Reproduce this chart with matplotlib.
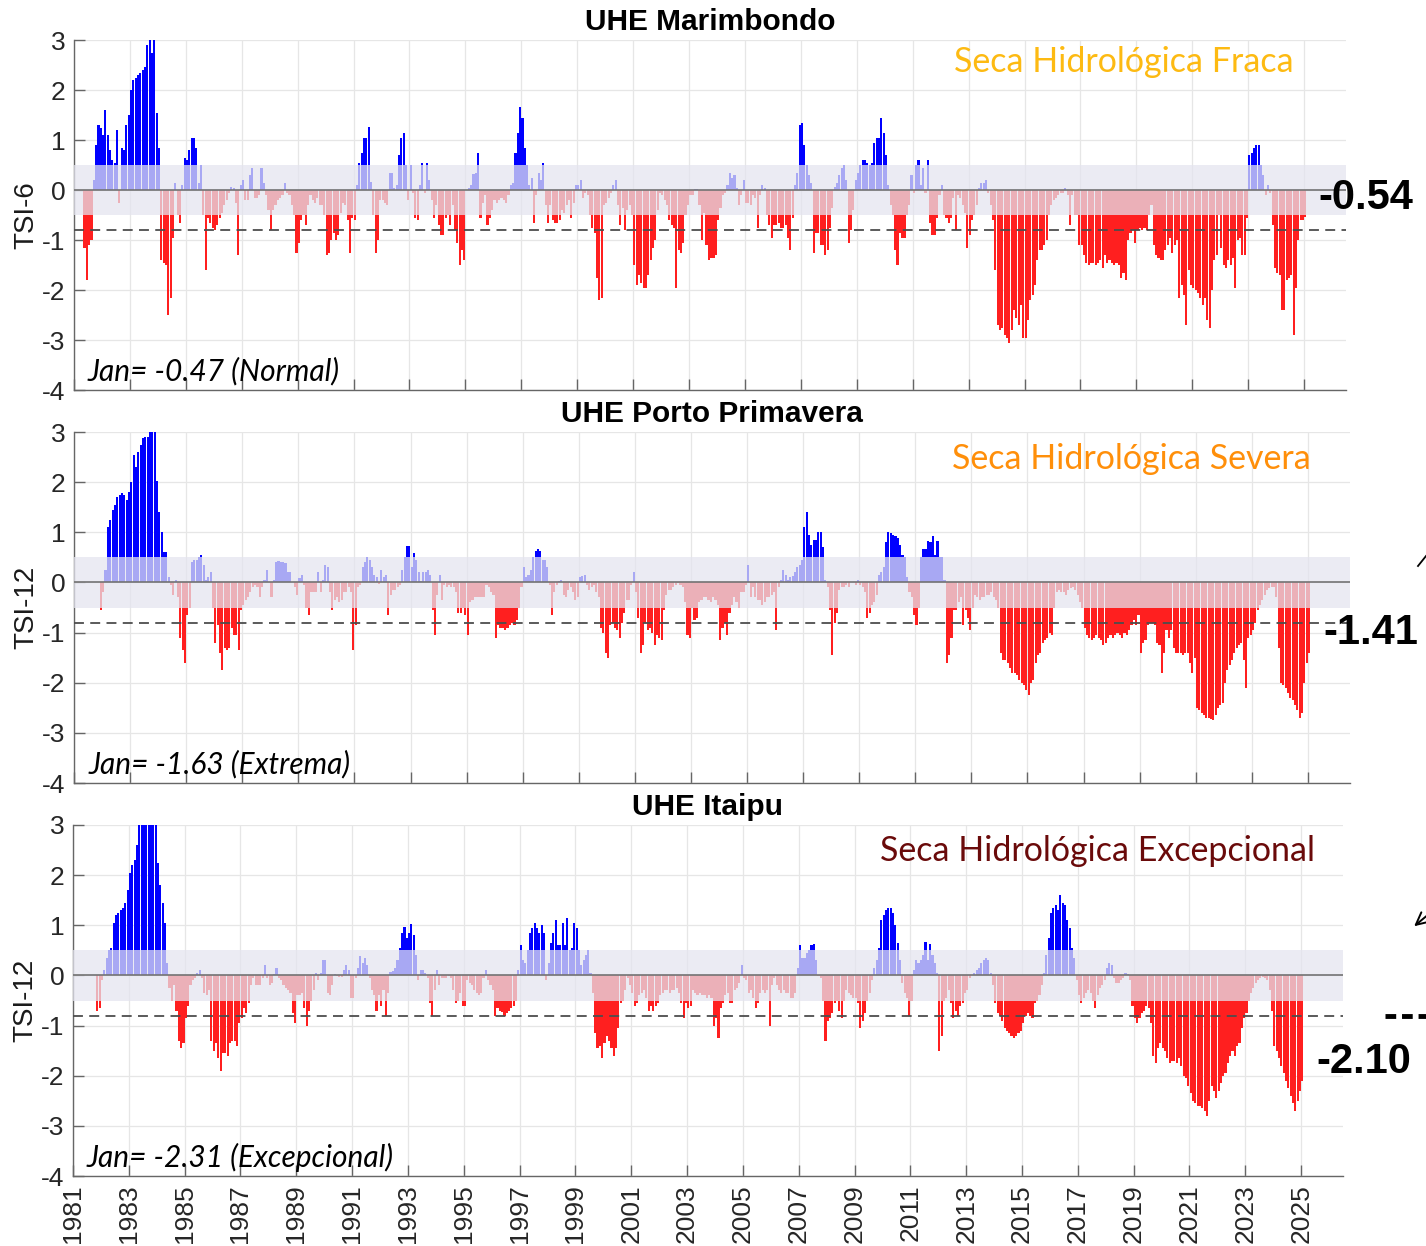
import numpy as np
import matplotlib
matplotlib.use('Agg')
import matplotlib.pyplot as plt
from matplotlib.lines import Line2D

nan = np.nan
start_year = 1981

# monthly index, one row per year (Jan..Dec), first row = 1981, last row = Jan 2025
tsi_marimbondo = [
    nan, nan, nan, nan, -1.15, -1.8, -1.1, -1.0, 0.2, 0.9, 1.3, 1.25,
    1.1, 1.6, 1.1, 0.8, 0.6, 0.55, 1.2, -0.25, 0.85, 0.8, 1.3, 1.5,
    2.0, 2.2, 2.25, 2.3, 2.35, 2.4, 2.45, 2.9, 3.1, 2.75, 3.1, 1.55,
    0.85, -1.4, -1.45, -1.5, -2.5, -2.15, -0.95, 0.15, -0.5, -0.65, 0.1, 0.65,
    0.6, 0.8, 1.05, 1.05, 0.85, 0.15, 0.5, -0.5, -1.6, -0.55, -0.65, -0.75,
    -0.8, -0.7, -0.55, -0.45, -0.3, -0.2, -0.05, 0.07, 0.05, -0.25, -1.3, 0.1,
    0.2, -0.2, -0.2, 0.3, 0.45, -0.15, -0.15, -0.1, 0.45, 0.15, -0.1, -0.4,
    -0.8, -0.4, -0.3, -0.2, -0.15, -0.1, 0.15, -0.05, -0.1, -0.3, -0.5, -1.25,
    -1.05, -0.6, -0.5, -0.7, -0.3, -0.1, -0.2, -0.25, -0.15, -0.3, -0.3, -0.5,
    -1.3, -1.25, -1.0, -0.85, -1.0, -0.9, -0.45, -0.25, -0.3, -0.6, -1.25, -0.55,
    -0.6, 0.1, 0.55, 0.75, 1.05, 1.05, 1.27, 0.17, -0.5, -1.25, -1.0, -0.2,
    -0.2, -0.25, -0.3, 0.35, 0.35, 0.05, 0.1, 0.7, 1.05, 1.15, 0.5, -0.2,
    0.5, -0.05, -0.55, -0.6, 0.1, 0.55, -0.05, 0.55, 0.2, -0.2, -0.55, -0.3,
    -0.7, -0.9, -0.9, -0.55, -0.5, -0.7, -0.3, -0.8, -1.05, -1.5, -1.2, -1.4,
    0.0, 0.05, 0.1, 0.33, 0.35, 0.75, -0.55, -0.25, -0.1, -0.7, -0.55, -0.4,
    -0.2, -0.25, -0.2, -0.15, -0.2, -0.25, -0.1, 0.1, 0.15, 0.75, 1.15, 1.66,
    1.45, 0.85, 0.5, 0.1, 0.25, -0.65, -0.1, 0.35, 0.2, 0.55, -0.3, -0.65,
    -0.3, -0.6, -0.65, -0.65, -0.6, -0.4, -0.45, -0.3, -0.2, -0.55, -0.25, 0.1,
    0.1, 0.2, -0.15, -0.05, -0.1, -0.5, -0.75, -0.85, -1.75, -2.2, -2.15, -0.3,
    -0.25, -0.15, -0.05, 0.1, 0.2, -0.3, -0.7, -0.35, -0.8, -0.4, -0.3, -0.5,
    -1.5, -1.9, -1.7, -1.85, -1.95, -1.95, -1.7, -1.4, -1.15, -1.0, -0.4, -0.05,
    -0.1, -0.2, -0.3, -0.6, -0.7, -0.75, -1.95, -1.2, -1.25, -1.05, -0.5, -0.3,
    -0.1, -0.1, 0.03, 0.03, -0.3, -1.0, -0.45, -1.1, -1.4, -1.35, -1.35, -1.3,
    -0.6, -0.35, -0.1, -0.05, 0.1, 0.35, 0.25, 0.3, 0.05, -0.3, -0.1, 0.2,
    -0.25, -0.25, -0.3, -0.1, -0.15, -0.75, -0.1, 0.1, 0.05, -0.5, -0.7, -0.95,
    -0.7, -0.7, -0.65, -0.75, -0.75, -0.7, -0.95, -1.2, -0.55, 0.1, 0.35, 1.3,
    1.35, 0.9, 0.5, 0.3, 0.15, -1.25, -0.85, -0.85, -1.1, -1.1, -1.3, -1.2,
    -0.75, -0.35, 0.07, 0.15, 0.3, 0.45, 0.5, 0.2, -1.05, -0.8, -0.4, 0.2,
    0.35, 0.5, 0.6, 0.6, 0.55, 0.5, 0.55, 0.95, 1.05, 1.05, 1.45, 1.15,
    0.7, 0.1, -0.3, -0.5, -1.2, -1.5, -0.85, -0.95, -0.95, -0.5, -0.3, 0.3,
    -0.05, 0.5, 0.6, 0.1, 0.45, -0.05, 0.6, -0.65, -0.9, -0.9, -0.55, -0.1,
    0.1, -0.5, -0.55, -0.65, -0.55, -0.15, -0.8, -0.1, -0.15, -0.3, -0.45, -1.15,
    -0.9, -0.6, -0.5, -0.3, 0.05, 0.15, 0.15, 0.2, -0.05, -0.3, -0.6, -1.6,
    -2.7, -2.8, -2.75, -2.9, -2.95, -3.05, -2.8, -2.4, -2.55, -2.7, -2.3, -2.95,
    -2.95, -2.6, -2.2, -2.1, -1.9, -1.4, -1.2, -1.2, -1.1, -1.0, -0.5, -0.3,
    -0.2, -0.15, -0.1, -0.05, -0.05, 0.05, -0.1, -0.7, -0.1, -0.5, -0.5, -1.1,
    -1.1, -1.3, -1.45, -1.5, -1.45, -1.45, -1.5, -1.45, -1.4, -1.55, -1.3, -1.45,
    -1.4, -1.45, -1.5, -1.45, -1.5, -1.75, -1.65, -1.8, -1.0, -0.85, -0.8, -1.05,
    -0.8, -0.75, -0.8, -0.75, -0.8, -0.5, -0.3, -1.1, -1.3, -1.35, -1.4, -1.4,
    -1.2, -1.1, -0.95, -1.25, -1.1, -1.0, -2.15, -1.9, -2.1, -2.7, -1.6, -1.9,
    -1.95, -2.0, -2.05, -2.15, -2.3, -2.15, -2.6, -2.75, -2.0, -1.4, -1.3, -0.5,
    -1.15, -1.5, -1.55, -1.4, -1.5, -1.35, -1.95, -1.0, -0.95, -1.3, -1.3, -0.55,
    0.7, 0.75, 0.85, 0.9, 0.9, 0.5, 0.3, -0.1, 0.1, -0.05, -0.7, -1.55,
    -1.65, -1.7, -2.4, -2.4, -1.8, -1.75, -1.7, -2.9, -1.95, -1.0, -0.6, -0.6,
    -0.54,
]

tsi_porto_primavera = [
    nan, nan, nan, nan, nan, nan, nan, nan, nan, nan, nan, -0.55,
    -0.2, 0.25, 1.1, 1.25, 1.45, 1.55, 1.7, 1.75, 1.78, 1.75, 1.65, 1.8,
    2.0, 2.55, 2.3, 2.6, 2.75, 2.88, 2.9, 2.9, 3.1, 3.2, 3.1, 2.03,
    1.4, 1.0, 0.6, 0.6, 0.1, -0.05, -0.25, 0.05, -0.3, -1.1, -1.35, -1.6,
    -0.65, -0.5, 0.4, 0.45, 0.45, 0.5, 0.55, 0.35, 0.05, 0.1, 0.2, -0.5,
    -1.2, -0.85, -1.4, -1.75, -1.3, -1.35, -1.3, -0.9, -1.05, -1.05, -1.35, -0.55,
    -0.45, -0.35, -0.3, -0.2, -0.1, -0.05, -0.1, -0.3, -0.1, 0.05, 0.25, 0.0,
    -0.3, 0.05, 0.4, 0.42, 0.4, 0.4, 0.38, 0.2, 0.2, 0.0, -0.1, -0.25,
    0.08, 0.15, -0.05, -0.5, -0.65, -0.2, -0.2, -0.2, 0.2, -0.2, 0.05, 0.35,
    0.3, -0.2, -0.55, -0.35, -0.3, -0.4, -0.35, -0.2, -0.2, -0.1, -0.2, -1.35,
    -0.85, -0.1, -0.05, 0.3, 0.4, 0.5, 0.45, 0.3, 0.15, 0.1, -0.03, 0.25,
    0.1, 0.15, -0.65, -0.25, -0.15, -0.15, -0.1, -0.05, 0.25, 0.5, 0.73, 0.73,
    0.3, 0.58, 0.45, 0.2, 0.03, 0.2, 0.2, 0.25, 0.15, -0.55, -1.05, -0.25,
    0.15, -0.35, -0.05, -0.1, -0.05, -0.1, -0.1, -0.2, -0.6, -0.6, -0.5, -0.65,
    -1.05, -0.4, -0.35, -0.3, -0.3, -0.3, -0.3, -0.3, -0.05, -0.1, -0.2, -0.25,
    -1.1, -0.85, -0.9, -0.9, -0.95, -0.9, -0.85, -0.8, -0.85, -0.75, -0.5, -0.1,
    0.3, 0.1, 0.15, 0.25, 0.5, 0.62, 0.67, 0.62, 0.45, 0.45, 0.3, -0.05,
    -0.65, -0.2, -0.05, 0.02, 0.05, -0.25, -0.3, -0.15, -0.1, -0.2, -0.35, -0.3,
    0.1, 0.12, 0.15, -0.05, -0.15, -0.1, -0.05, -0.2, -0.3, -0.9, -1.0, -1.4,
    -1.5, -0.85, -0.8, -0.9, -0.95, -1.1, -0.8, -0.6, -0.35, -0.35, -0.05, 0.2,
    -0.2, -0.7, -1.4, -1.25, -0.8, -0.95, -0.9, -1.0, -1.25, -1.05, -1.1, -1.15,
    -0.55, -0.25, -0.15, -0.15, -0.1, -0.05, -0.02, -0.05, -0.1, -0.4, -1.05, -1.1,
    -0.5, -0.75, -0.7, -0.4, -0.35, -0.3, -0.3, -0.35, -0.4, -0.3, -0.35, -0.45,
    -1.15, -0.9, -0.8, -1.05, -0.6, -0.45, -0.3, -0.4, -0.5, -0.2, -0.2, -0.05,
    0.35, -0.3, -0.1, -0.3, -0.35, -0.35, -0.45, -0.4, -0.3, -0.3, -0.25, -0.2,
    -0.95, -0.1, 0.05, 0.25, 0.15, 0.05, 0.1, 0.12, 0.2, 0.3, 0.35, 0.45,
    1.1, 1.4, 0.95, 0.75, 0.85, 0.85, 1.0, 1.0, 0.7, 0.05, -0.1, -0.55,
    -1.45, -0.8, -0.6, -0.15, -0.1, -0.1, -0.05, -0.1, 0.0, 0.0, -0.05, 0.05,
    -0.05, -0.1, -0.2, -0.7, -0.6, -0.45, -0.4, -0.25, 0.15, 0.2, 0.3, 0.8,
    1.0, 0.98, 0.95, 0.92, 0.88, 0.75, 0.55, 0.5, 0.1, -0.2, -0.3, -0.65,
    -0.85, -0.5, 0.5, 0.67, 0.67, 0.82, 0.8, 0.92, 0.55, 0.82, 0.5, 0.5,
    0.05, -1.6, -1.45, -1.1, -0.55, -0.55, -0.4, -0.3, -0.85, -0.55, -0.7, -0.95,
    -0.5, -0.25, -0.3, -0.35, -0.3, -0.3, -0.25, -0.25, -0.2, -0.3, -0.35, -0.5,
    -1.4, -1.55, -1.55, -1.6, -1.7, -1.8, -1.8, -1.85, -1.95, -2.0, -2.05, -2.15,
    -2.25, -2.0, -1.95, -1.6, -1.45, -1.4, -1.2, -1.15, -1.1, -1.0, -1.05, -0.5,
    -0.2, -0.15, -0.2, -0.2, -0.25, -0.15, -0.12, -0.1, -0.15, -0.25, -0.4, -0.5,
    -0.9, -1.05, -1.1, -1.15, -1.1, -1.05, -1.1, -1.15, -1.25, -1.2, -1.1, -1.05,
    -1.1, -1.05, -1.0, -1.05, -1.1, -1.0, -1.05, -0.95, -0.85, -0.75, -0.85, -0.65,
    -1.4, -1.2, -1.15, -0.85, -0.8, -0.8, -0.85, -1.2, -1.25, -1.8, -1.4, -0.95,
    -1.1, -0.95, -1.3, -1.4, -1.4, -1.4, -1.45, -1.4, -1.4, -1.6, -1.8, -1.5,
    -2.5, -2.55, -2.6, -2.65, -2.7, -2.7, -2.72, -2.75, -2.65, -2.5, -2.45, -2.4,
    -2.0, -1.75, -1.65, -1.55, -1.4, -1.3, -1.25, -1.2, -1.55, -2.1, -1.1, -1.05,
    -0.95, -0.8, -0.55, -0.45, -0.35, -0.25, -0.15, -0.12, -0.1, -0.1, -0.3, -1.3,
    -2.0, -2.05, -2.1, -2.2, -2.3, -2.35, -2.45, -2.55, -2.7, -2.6, -2.0, -1.6,
    -1.41,
]

tsi_itaipu = [
    nan, nan, nan, nan, nan, nan, nan, nan, nan, nan, -0.7, -0.65,
    -0.1, 0.1, 0.35, 0.5, 0.55, 1.05, 1.2, 1.25, 1.3, 1.35, 1.45, 1.7,
    2.05, 2.2, 2.3, 2.6, 3.1, 3.2, 3.3, 3.4, 3.3, 3.2, 3.1, 3.05,
    2.25, 1.8, 1.45, 1.05, 0.25, -0.25, -0.5, -0.2, -0.7, -1.3, -1.45, -1.35,
    -0.85, -0.6, -0.2, -0.1, -0.05, 0.05, 0.1, -0.05, -0.35, -0.4, -0.3, -1.3,
    -1.5, -1.35, -1.65, -1.9, -1.55, -1.55, -1.6, -1.35, -1.3, -1.3, -1.4, -0.95,
    -0.85, -0.65, -0.75, -0.55, -0.2, -0.05, -0.2, -0.2, -0.2, -0.05, 0.2, -0.05,
    -0.2, -0.15, 0.02, 0.15, -0.05, -0.1, -0.2, -0.25, -0.3, -0.35, -0.75, -0.95,
    -0.4, -0.4, -0.35, -0.65, -1.0, -0.7, -0.5, -0.3, 0.05, -0.1, 0.05, 0.3,
    0.3, -0.35, -0.4, -0.2, 0.02, -0.02, -0.03, -0.03, 0.1, 0.2, 0.1, -0.45,
    -0.45, -0.05, 0.15, 0.38, 0.25, 0.35, 0.2, -0.05, -0.3, -0.4, -0.7, -0.4,
    -0.6, -0.3, -0.8, -0.35, 0.07, 0.08, 0.15, 0.3, 0.55, 0.85, 0.97, 0.75,
    0.85, 1.03, 0.8, 0.4, -0.1, 0.1, 0.1, 0.05, -0.05, -0.55, -0.8, -0.3,
    0.1, -0.2, -0.05, -0.05, -0.05, -0.02, -0.05, -0.3, -0.55, -0.5, -0.35, -0.6,
    -0.6, -0.1, -0.15, -0.2, -0.3, -0.35, -0.4, -0.35, -0.05, 0.1, -0.1, -0.2,
    -0.3, -0.8, -0.65, -0.7, -0.72, -0.8, -0.75, -0.7, -0.65, -0.6, -0.5, 0.1,
    0.6, 0.3, 0.25, 0.5, 0.85, 0.95, 1.05, 0.95, 0.85, 1.0, 0.85, -0.1,
    0.25, 0.65, 0.85, 1.1, 0.6, 0.6, 1.05, 0.6, 1.15, 0.5, 0.55, 1.05,
    0.95, 0.5, 0.2, 0.3, 0.4, 0.5, 0.05, -0.35, -1.15, -1.45, -1.4, -1.65,
    -1.35, -1.2, -1.3, -1.45, -1.6, -1.45, -1.05, -0.55, -0.5, -0.3, -0.05, -0.2,
    -0.35, -0.6, -0.55, -0.4, -0.35, -0.3, -0.45, -0.7, -0.6, -0.7, -0.6, -0.55,
    -0.4, -0.35, -0.3, -0.3, -0.35, -0.3, -0.3, -0.25, -0.35, -0.55, -0.85, -0.55,
    -0.65, -0.6, -0.3, -0.35, -0.4, -0.35, -0.4, -0.4, -0.45, -0.4, -0.45, -1.0,
    -0.85, -1.25, -0.65, -0.55, -0.4, -0.35, -0.55, -0.55, -0.3, -0.25, -0.15, 0.2,
    -0.05, -0.1, -0.35, -0.3, -0.45, -0.65, -0.55, -0.35, -0.3, -0.35, -0.3, -1.0,
    -0.2, -0.05, -0.2, -0.3, -0.35, -0.3, -0.35, -0.35, -0.45, -0.45, -0.35, 0.15,
    0.6, 0.35, 0.35, 0.45, 0.5, 0.6, 0.62, 0.3, -0.02, -0.05, -0.5, -1.3,
    -0.9, -0.85, -0.75, -0.55, -0.5, -0.7, -0.85, -0.5, -0.3, -0.35, -0.4, -0.45,
    -0.45, -0.55, -1.05, -0.9, -0.75, -0.5, -0.35, -0.1, 0.15, 0.3, 0.55, 1.1,
    1.2, 1.3, 1.35, 1.35, 1.25, 1.0, 0.65, 0.3, -0.15, -0.35, -0.45, -0.8,
    -0.5, 0.1, 0.3, 0.25, 0.3, 0.4, 0.67, 0.3, 0.63, 0.4, 0.25, 0.05,
    -1.5, -1.2, -0.5, -0.45, -0.3, -0.55, -0.85, -0.7, -0.8, -0.6, -0.55, -0.35,
    -0.3, -0.05, 0.0, 0.05, 0.1, 0.15, 0.25, 0.3, 0.35, 0.3, 0.05, -0.2,
    -0.55, -0.75, -0.8, -0.9, -1.05, -1.1, -1.15, -1.2, -1.25, -1.2, -1.15, -1.1,
    -0.95, -0.8, -0.75, -0.8, -0.85, -0.55, -0.5, -0.4, -0.2, 0.05, 0.4, 0.75,
    1.25, 1.35, 1.4, 1.3, 1.6, 1.45, 1.4, 1.1, 0.95, 0.55, 0.35, -0.1,
    -0.4, -0.55, -0.45, -0.35, -0.3, -0.35, -0.5, -0.65, -0.4, -0.25, -0.2, -0.1,
    0.15, 0.25, 0.2, -0.05, -0.15, -0.15, -0.1, -0.05, 0.05, 0.03, -0.1, -0.6,
    -0.85, -0.95, -0.85, -0.75, -0.7, -0.6, -0.65, -0.95, -1.6, -1.75, -1.45, -1.35,
    -1.45, -1.5, -1.65, -1.75, -1.7, -1.7, -1.75, -1.65, -1.8, -2.0, -2.05, -2.2,
    -2.35, -2.5, -2.55, -2.6, -2.6, -2.65, -2.7, -2.8, -2.5, -2.2, -2.3, -2.45,
    -2.3, -2.15, -2.0, -1.95, -1.75, -1.6, -1.5, -1.6, -1.4, -1.35, -1.05, -0.85,
    -0.75, -0.5, -0.35, -0.25, -0.15, -0.1, -0.05, -0.03, -0.05, -0.1, -0.3, -0.7,
    -1.4, -1.5, -1.65, -1.8, -1.95, -2.1, -2.25, -2.4, -2.55, -2.7, -2.5, -2.3,
    -2.1,
]

titles = ['UHE Marimbondo', 'UHE Porto Primavera', 'UHE Itaipu']
ylabels = ['TSI-6', 'TSI-12', 'TSI-12']
jan_notes = ['Jan= -0.47 (Normal)', 'Jan= -1.63 (Extrema)', 'Jan= -2.31 (Excepcional)']
drought_labels = ['Seca Hidrológica Fraca', 'Seca Hidrológica Severa',
                  'Seca Hidrológica Excepcional']
drought_colors = ['#FDBA12', '#FF8F0A', '#6A0A0A']
last_labels = ['-0.54', '-1.41', '-2.10']
year_ticks = list(range(1981, 2026, 2))

plt.rcParams['font.family'] = ['Liberation Sans', 'DejaVu Sans']
plt.rcParams['axes.unicode_minus'] = False

fig = plt.figure(figsize=(14.26, 12.46), dpi=100)
W, H = 1426, 1246

# axes boxes in pixels: (left, top, right, bottom)
boxes = [(74, 40, 1346, 390), (74, 432, 1350, 783), (73, 825, 1343, 1176)]
# drought label: right edge x, centre y (pixels)
drought_pos = [(1294, 62), (1311, 459), (1315, 851)]
# big value label: left x, centre y (pixels)
value_pos = [(1318, 198), (1323, 633), (1316, 1062)]

series = [tsi_marimbondo, tsi_porto_primavera, tsi_itaipu]
band_color = (228 / 255, 228 / 255, 239 / 255)

for i in range(3):
    l, t, r, b = boxes[i]
    ax = fig.add_axes([l / W, 1 - b / H, (r - l) / W, (b - t) / H])
    vals = np.array(series[i], dtype=float)
    dates = start_year + (np.arange(len(vals)) + 0.5) / 12
    ok = ~np.isnan(vals)
    cols = np.where(vals[ok] >= 0, '#0000ff', '#ff1f1f')
    ax.bar(dates[ok], vals[ok], width=0.9 / 12, color=cols, linewidth=0, zorder=2)
    ax.axhspan(-0.5, 0.5, color=band_color, alpha=0.74, lw=0, zorder=3)
    ax.axhline(0, color='0.45', lw=1.2, zorder=4)
    ax.axhline(-0.8, color='0.3', lw=1.3, ls=(0, (5.5, 3.5)), zorder=5)

    ax.set_xlim(1981, 2026.5)
    ax.set_ylim(-4, 3)
    ax.set_yticks(range(-4, 4))
    ax.set_xticks(year_ticks)
    ax.grid(True, color='0.9', lw=0.9)
    ax.set_axisbelow(True)
    for s in ['top', 'right']:
        ax.spines[s].set_visible(False)
    for s in ['left', 'bottom']:
        ax.spines[s].set_color('0.4')
        ax.spines[s].set_linewidth(1.0)
    ax.tick_params(direction='in', length=8, width=1, color='0.4',
                   labelsize=19, labelcolor='0.15', pad=6)
    if i < 2:
        ax.tick_params(axis='x', labelbottom=False)
    else:
        ax.set_xticklabels([str(y) for y in year_ticks], rotation=90)

    ax.set_title(titles[i], fontsize=21.5, fontweight='bold', pad=7)
    ax.set_ylabel(ylabels[i], fontsize=20, labelpad=2, color='0.1')

    ax.text(0.011, 0.012, jan_notes[i], transform=ax.transAxes, fontsize=21.5,
            family=['Lato', 'DejaVu Sans'], style='italic', ha='left', va='bottom')

    dx, dy = drought_pos[i]
    fig.text(dx / W, 1 - dy / H, drought_labels[i], fontsize=24.5,
             family=['Lato', 'DejaVu Sans'], color=drought_colors[i],
             ha='right', va='center')

    vx, vy = value_pos[i]
    fig.text(vx / W, 1 - vy / H, last_labels[i], fontsize=30, fontweight='bold',
             ha='left', va='center')

# fragments of annotations cut off at the right edge
fig.add_artist(Line2D([1385 / W, 1.0], [1 - 1016 / H, 1 - 1016 / H],
                      color='black', lw=3.5, ls=(0, (2.2, 1.2))))
fig.add_artist(Line2D([1426 / W, 1418 / W], [1 - 556 / H, 1 - 566 / H],
                      color='black', lw=1.3))
ax0 = fig.axes[0]
ax0.annotate('', xy=(1412, H - 928), xycoords='figure pixels',
             xytext=(1470, H - 880), textcoords='figure pixels',
             arrowprops=dict(arrowstyle='->', lw=1.4, color='black',
                             mutation_scale=22),
             annotation_clip=False)

fig.savefig('out.png', dpi=100)
